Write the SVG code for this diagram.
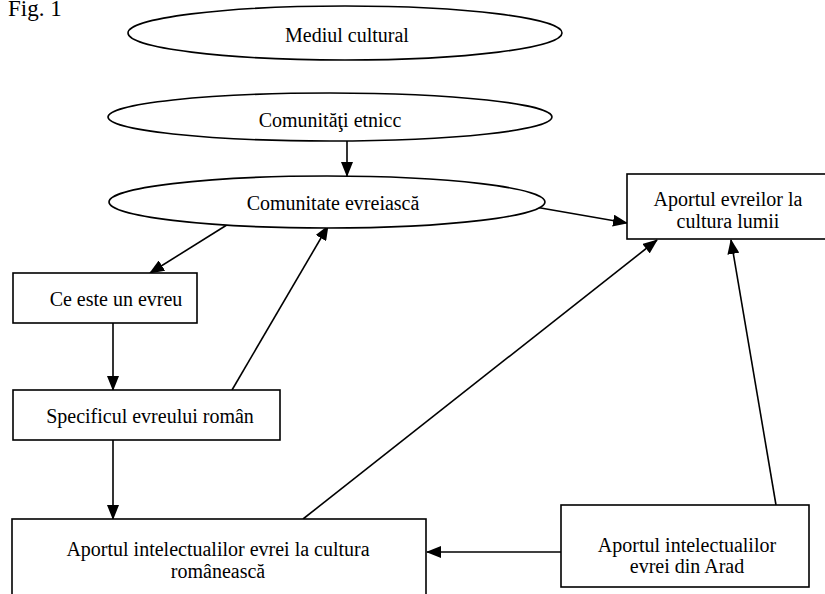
<svg xmlns="http://www.w3.org/2000/svg" width="825" height="594" viewBox="0 0 825 594">
<style>
.n{fill:#fff;stroke:#000;stroke-width:1.6}
.t{font-family:"Liberation Serif","Times New Roman",serif;font-size:20px;fill:#000;text-anchor:middle}
.c{stroke:#000;stroke-width:1.6;fill:none;marker-end:url(#ah)}
.p{stroke:#000;stroke-width:1.6;fill:none}
</style>
<defs>
<marker id="ah" markerUnits="userSpaceOnUse" markerWidth="15" markerHeight="12" refX="14" refY="6" orient="auto">
<path d="M0,0 L15,6 L0,12 Z" fill="#000"/>
</marker>
</defs>
<rect width="825" height="594" fill="#fff"/>
<text x="8" y="16" font-family="Liberation Serif, serif" font-size="23" fill="#000">Fig. 1</text>
<g id="connectors">
<line class="c" x1="347" y1="141" x2="347" y2="176"/>
<line class="c" x1="535" y1="207" x2="627" y2="223"/>
<line class="c" x1="230" y1="223" x2="150" y2="273"/>
<line class="c" x1="113" y1="323" x2="113" y2="390"/>
<line class="c" x1="232" y1="390" x2="328" y2="226"/>
<line class="c" x1="113" y1="440" x2="113" y2="519"/>
<line class="c" x1="303" y1="519" x2="657" y2="240"/>
<line class="c" x1="561" y1="552" x2="427" y2="552"/>
<line class="c" x1="776" y1="505" x2="731" y2="240"/>
</g>
<g id="mediul">
<ellipse class="n" cx="345" cy="33" rx="217" ry="27"/>
<text class="t" x="347" y="42">Mediul cultural</text>
</g>
<g id="comunitati">
<ellipse class="n" cx="330" cy="117" rx="222" ry="24"/>
<text class="t" x="330" y="127">Comunităţi etnicc</text>
</g>
<g id="comunitate">
<ellipse class="n" cx="327" cy="202" rx="218" ry="26"/>
<text class="t" x="333" y="210">Comunitate evreiască</text>
</g>
<g id="aport-lumii">
<rect class="n" x="627" y="174" width="210" height="65"/>
<text class="t" x="728" y="206">Aportul evreilor la</text>
<text class="t" x="728" y="228">cultura lumii</text>
</g>
<g id="ce-este">
<rect class="n" x="13" y="273" width="184" height="50"/>
<text class="t" x="116" y="306">Ce este un evreu</text>
</g>
<g id="specificul">
<rect class="n" x="13" y="390" width="267" height="50"/>
<text class="t" x="150" y="423">Specificul evreului român</text>
</g>
<g id="aport-romaneasca">
<rect class="n" x="12" y="519" width="414" height="90"/>
<text class="t" x="218" y="556">Aportul intelectualilor evrei la cultura</text>
<text class="t" x="218" y="578">românească</text>
</g>
<g id="aport-arad">
<rect class="n" x="561" y="505" width="248" height="82"/>
<text class="t" x="687" y="552">Aportul intelectualilor</text>
<text class="t" x="687" y="573">evrei din Arad</text>
</g>
</svg>
